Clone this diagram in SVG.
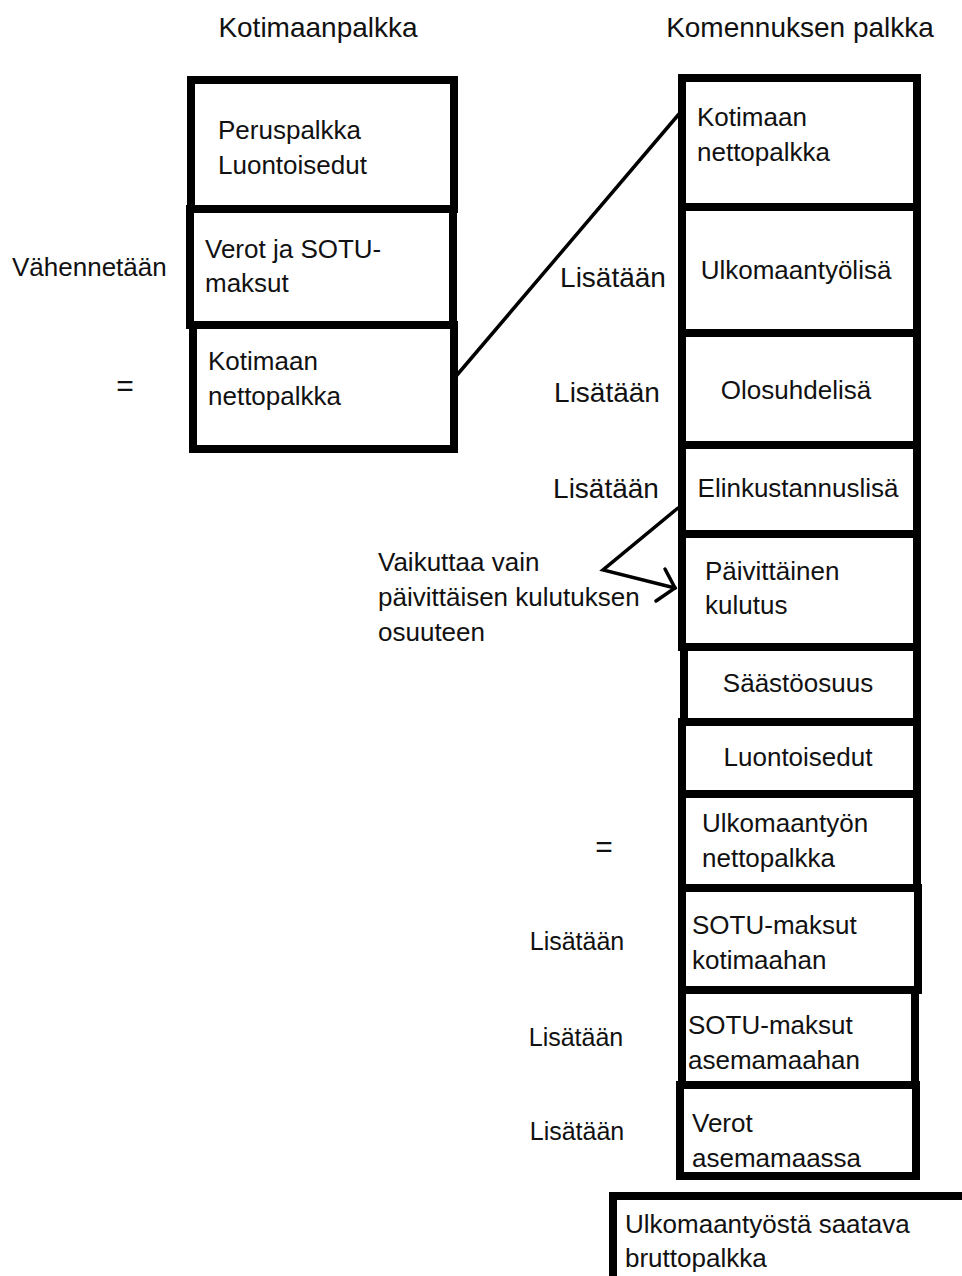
<svg xmlns="http://www.w3.org/2000/svg" width="962" height="1276" viewBox="0 0 962 1276">
<style>
text{font-family:"Liberation Sans",Arial,sans-serif;font-size:26px;fill:#111}
.h{font-size:28px}
.l{font-size:28px}
.s{font-size:25px}
.e{font-size:30px}
.b{fill:#fff;stroke:#000;stroke-width:8}
.c{fill:none;stroke:#000;stroke-width:3.5;stroke-linejoin:miter;stroke-linecap:round}
</style>
<rect width="962" height="1276" fill="#fff"/>
<g id="headers">
<text class="h" x="318" y="37" text-anchor="middle">Kotimaanpalkka</text>
<text class="h" x="800" y="37" text-anchor="middle">Komennuksen palkka</text>
</g>
<g id="left-labels">
<text x="12" y="276">Vähennetään</text>
<text class="e" x="125" y="396" text-anchor="middle">=</text>
</g>
<g id="n-peruspalkka">
<rect class="b" x="191" y="80" width="263" height="129"/>
<text x="218" y="139">Peruspalkka</text>
<text x="218" y="174">Luontoisedut</text>
</g>
<g id="n-verot">
<rect class="b" x="190" y="209" width="263" height="116"/>
<text x="205" y="258">Verot ja SOTU-</text>
<text x="205" y="292">maksut</text>
</g>
<g id="n-kotimaan-netto">
<rect class="b" x="193" y="325" width="261" height="124"/>
<text x="208" y="370">Kotimaan</text>
<text x="208" y="405">nettopalkka</text>
</g>
<g id="n-r-kotimaan">
<rect class="b" x="682" y="78" width="235" height="129"/>
<text x="697" y="126">Kotimaan</text>
<text x="697" y="161">nettopalkka</text>
</g>
<g id="n-ulkomaantyolisa">
<rect class="b" x="682" y="207" width="235" height="126"/>
<text x="796" y="279" text-anchor="middle">Ulkomaantyölisä</text>
<text class="l" x="613" y="287" text-anchor="middle">Lisätään</text>
</g>
<g id="n-olosuhdelisa">
<rect class="b" x="682" y="333" width="235" height="112"/>
<text x="796" y="399" text-anchor="middle">Olosuhdelisä</text>
<text class="l" x="607" y="402" text-anchor="middle">Lisätään</text>
</g>
<g id="n-elinkustannuslisa">
<rect class="b" x="682" y="445" width="235" height="89"/>
<text x="798" y="497" text-anchor="middle">Elinkustannuslisä</text>
<text class="l" x="606" y="498" text-anchor="middle">Lisätään</text>
</g>
<g id="n-paivittainen">
<rect class="b" x="682" y="534" width="235" height="113"/>
<text x="705" y="580">Päivittäinen</text>
<text x="705" y="614">kulutus</text>
</g>
<g id="n-saastoosuus">
<rect class="b" x="684" y="647" width="233" height="75"/>
<text x="798" y="692" text-anchor="middle">Säästöosuus</text>
</g>
<g id="n-luontoisedut">
<rect class="b" x="682" y="722" width="235" height="72"/>
<text x="798" y="766" text-anchor="middle">Luontoisedut</text>
</g>
<g id="n-ulkomaantyon-netto">
<rect class="b" x="682" y="794" width="235" height="94"/>
<text x="702" y="832">Ulkomaantyön</text>
<text x="702" y="867">nettopalkka</text>
<text class="e" x="604" y="857" text-anchor="middle">=</text>
</g>
<g id="n-sotu-kotimaahan">
<rect class="b" x="682" y="888" width="236" height="102"/>
<text x="692" y="934">SOTU-maksut</text>
<text x="692" y="969">kotimaahan</text>
<text class="s" x="577" y="950" text-anchor="middle">Lisätään</text>
</g>
<g id="n-sotu-asemamaahan">
<rect class="b" x="682" y="990" width="233" height="95"/>
<text x="688" y="1034">SOTU-maksut</text>
<text x="688" y="1069">asemamaahan</text>
<text class="s" x="576" y="1046" text-anchor="middle">Lisätään</text>
</g>
<g id="n-verot-asemamaassa">
<rect class="b" x="680" y="1085" width="236" height="91"/>
<text x="692" y="1132">Verot</text>
<text x="692" y="1167">asemamaassa</text>
<text class="s" x="577" y="1140" text-anchor="middle">Lisätään</text>
</g>
<g id="n-brutto">
<rect class="b" x="613" y="1196" width="360" height="100"/>
<text x="625" y="1233">Ulkomaantyöstä saatava</text>
<text x="625" y="1267">bruttopalkka</text>
</g>
<g id="n-note">
<text x="378" y="571">Vaikuttaa vain</text>
<text x="378" y="606">päivittäisen kulutuksen</text>
<text x="378" y="641">osuuteen</text>
</g>
<g id="connectors">
<line class="c" x1="457" y1="375" x2="679" y2="114"/>
<polyline class="c" points="678,508 603,570 675,588"/>
<polyline class="c" points="665,569 675,588 656,601"/>
</g>
</svg>
